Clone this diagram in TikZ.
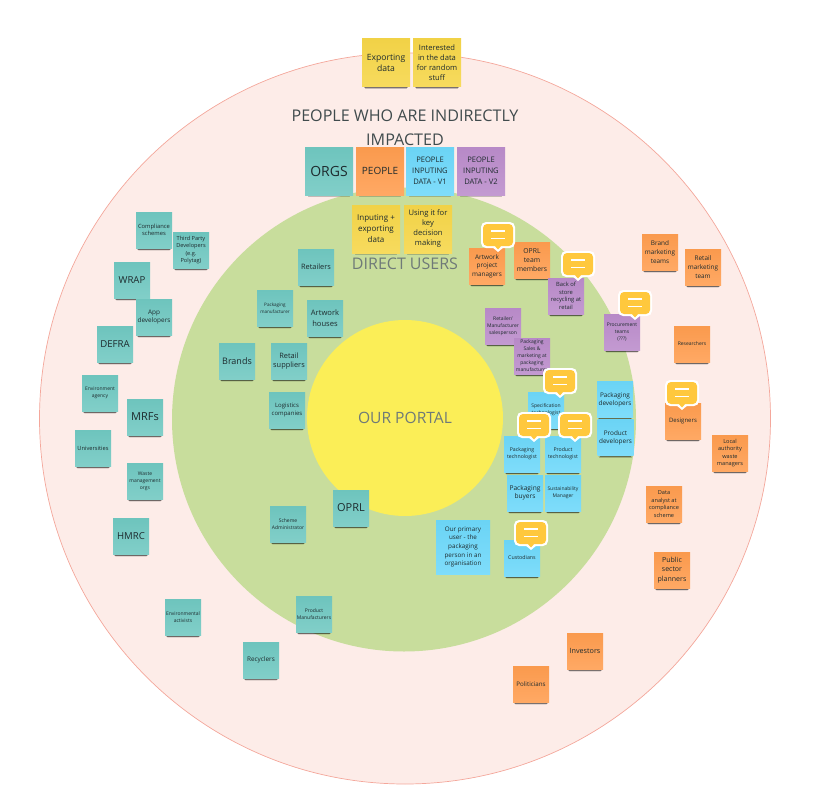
\documentclass[tikz,border=0pt]{standalone}
\usepackage{fontspec}
\setmainfont{Open Sans}
\usetikzlibrary{shadows.blur}
\definecolor{noteTeal}{HTML}{70C8C1}
\definecolor{noteOrange}{HTML}{FF9D4F}
\definecolor{noteBlue}{HTML}{6DD8FA}
\definecolor{notePurple}{HTML}{BB8CCB}
\definecolor{noteYellow}{HTML}{F6D648}
\definecolor{ringPink}{HTML}{FDECE8}
\definecolor{ringEdge}{HTML}{F4A79B}
\definecolor{ringGreen}{HTML}{C8DD9C}
\definecolor{ringYellow}{HTML}{FBEE57}
\definecolor{inkDark}{HTML}{1E2B2E}
\definecolor{inkGrey}{HTML}{6F7A78}
\definecolor{bubbleYellow}{HTML}{FFC83D}
\tikzset{
  % every note is a small square with a soft band of shadow below it
  note/.style 2 args = {rectangle, minimum size=#1, inner sep=0pt, align=center, text=inkDark,
                 top color=#2!98!black, bottom color=#2!88!white,
                 blur shadow={shadow xshift=0pt, shadow yshift=-4.2pt, shadow scale=0.86,
                              shadow opacity=80, shadow blur radius=1.2pt, shadow blur steps=4}},
  tealnote/.style   = {note={36}{noteTeal}},
  orangenote/.style = {note={36}{noteOrange}},
  bluenote/.style   = {note={36}{noteBlue}},
  purplenote/.style = {note={36}{notePurple}},
  yellownote/.style = {note={48}{noteYellow}},
  mid/.style    = {font=\fontsize{8.6}{11.2}\selectfont},
  smalltxt/.style = {font=\fontsize{6.4}{8.6}\selectfont},
  tiny/.style   = {font=\fontsize{5}{7}\selectfont},
  ringlabel/.style = {align=center, text=inkGrey},
  pics/bubble/.style = {code={
    \fill[white, rounded corners=5pt] (-17,-13) rectangle (17,13);
    \fill[white] (-6,12) -- (0,17) -- (6,12) -- cycle;
    \fill[bubbleYellow, rounded corners=4pt] (-15,-11) rectangle (15,11);
    \fill[bubbleYellow] (-4,10) -- (0,14.5) -- (4,10) -- cycle;
    \draw[white, line width=1.6pt] (-7,-4.3) -- (7,-4.3);
    \draw[white, line width=1.6pt] (-7,3.3) -- (7,3.3);
  }}
}
\begin{document}
\begin{tikzpicture}[x=1pt, y=-1pt]
  \useasboundingbox (0,0) rectangle (831,800);
  % rings
  \fill[ringPink, draw=ringEdge, line width=0.7pt] (405,418.5) circle (365.5);
  \fill[ringGreen] (404,419.5) circle (232);
  \fill[ringYellow] (405,418) circle (98);
  \node[ringlabel, text=inkDark!85, font=\fontsize{16.1}{24}\selectfont] (indirect) at (405,128) {PEOPLE WHO ARE INDIRECTLY\\IMPACTED};
  \node[ringlabel, font=\fontsize{16}{18}\selectfont] (direct) at (405,264) {DIRECT USERS};
  \node[ringlabel, font=\fontsize{15.6}{18}\selectfont] (portal) at (405,418) {OUR PORTAL};
  % key at the top
  \node[yellownote, mid] (exporting) at (386,63) {Exporting\\data};
  \node[yellownote, font=\fontsize{7.6}{10}\selectfont] (interested) at (437,63) {Interested\\in the data\\for random\\stuff};
  \node[note={48}{noteTeal}, font=\fontsize{14}{16}\selectfont] (orgs) at (329,171) {ORGS};
  \node[note={48}{noteOrange}, font=\fontsize{10}{12}\selectfont] (people) at (380,171) {PEOPLE};
  \node[note={48}{noteBlue}, font=\fontsize{7.6}{11}\selectfont] (peoplev1) at (430,171) {PEOPLE\\INPUTING\\DATA - V1};
  \node[note={48}{notePurple}, font=\fontsize{7.6}{11}\selectfont] (peoplev2) at (481,171) {PEOPLE\\INPUTING\\DATA - V2};
  \node[yellownote, font=\fontsize{8}{11}\selectfont] (inputing) at (376,229) {Inputing +\\exporting\\data};
  \node[yellownote, font=\fontsize{7.6}{10}\selectfont] (keyuse) at (428,229) {Using it for\\key\\decision\\making};
  % organisations, outer ring
  \node[tealnote, font=\fontsize{5.8}{7.6}\selectfont] (compliance) at (154,230) {Compliance\\schemes};
  \node[tealnote, font=\fontsize{5.6}{7.6}\selectfont] (thirdparty) at (191,250) {Third Party\\Developers\\(e.g.\\Polytag)};
  \node[tealnote, font=\fontsize{9.6}{12}\selectfont] (wrap) at (132,280) {WRAP};
  \node[tealnote, smalltxt] (appdevs) at (154,317) {App\\developers};
  \node[tealnote, font=\fontsize{9.6}{12}\selectfont] (defra) at (115,344) {DEFRA};
  \node[tealnote, tiny] (envagency) at (100,393) {Environment\\agency};
  \node[tealnote, font=\fontsize{11}{13}\selectfont] (mrfs) at (145,417) {MRFs};
  \node[tealnote, font=\fontsize{5.7}{8}\selectfont] (universities) at (93,448) {Universities};
  \node[tealnote, tiny] (waste) at (145,481) {Waste\\management\\orgs};
  \node[tealnote, font=\fontsize{9.6}{12}\selectfont] (hmrc) at (131,536) {HMRC};
  \node[tealnote, tiny] (activists) at (183,617) {Environmental\\activists};
  \node[tealnote, smalltxt] (recyclers) at (261,660) {Recyclers};
  % organisations, green ring
  \node[tealnote, font=\fontsize{7.4}{9}\selectfont] (retailers) at (316,267) {Retailers};
  \node[tealnote, font=\fontsize{4.6}{7}\selectfont] (packmanu) at (275,308) {Packaging\\manufacturer};
  \node[tealnote, font=\fontsize{7.6}{10.6}\selectfont] (artwork) at (325,318) {Artwork\\houses};
  \node[tealnote, font=\fontsize{9}{12}\selectfont] (brands) at (237,361) {Brands};
  \node[tealnote, font=\fontsize{7.4}{9.8}\selectfont] (retailsup) at (289,361) {Retail\\suppliers};
  \node[tealnote, font=\fontsize{6}{8.4}\selectfont] (logistics) at (287,410) {Logistics\\companies};
  \node[tealnote, tiny] (schemeadmin) at (288,524) {Scheme\\Administrator};
  \node[tealnote, font=\fontsize{11}{13}\selectfont] (oprl) at (351,508) {OPRL};
  \node[tealnote, tiny] (prodmanu) at (314,614) {Product\\Manufacturers};
  % orange, green ring
  \node[orangenote, smalltxt] (artworkpm) at (487,266) {Artwork\\project\\managers};
  \node[orangenote, font=\fontsize{6.8}{8.8}\selectfont] (oprlteam) at (532,260) {OPRL\\team\\members};
  % purple
  \node[purplenote, font=\fontsize{5.8}{7.6}\selectfont] (backstore) at (566,296) {Back of\\store\\recycling at\\retail};
  \node[purplenote, tiny] (salesperson) at (503,326) {Retailer/\\Manufacturer\\salesperson};
  \node[purplenote, tiny] (packsales) at (532,356) {Packaging\\Sales \&\\marketing at\\packaging\\manufacturer};
  \node[purplenote, tiny] (procurement) at (622,332) {Procurement\\teams\\(???)};
  % blue
  \node[bluenote, font=\fontsize{6.4}{8.2}\selectfont] (packdevs) at (615,399.5) {Packaging\\developers};
  \node[bluenote, font=\fontsize{6.4}{8.2}\selectfont] (proddevs) at (615.5,437.5) {Product\\developers};
  \node[bluenote, tiny] (spectech) at (546,410) {Specification\\technologist};
  \node[bluenote, font=\fontsize{5.2}{7}\selectfont] (packtech) at (522,454) {Packaging\\technologist};
  \node[bluenote, font=\fontsize{5.2}{7}\selectfont] (prodtech) at (563,454) {Product\\technologist};
  \node[bluenote, font=\fontsize{6.6}{8.4}\selectfont] (packbuyers) at (525,493) {Packaging\\buyers};
  \node[bluenote, tiny] (sustain) at (563,493) {Sustainability\\Manager};
  \node[note={54}{noteBlue}, font=\fontsize{6.3}{8.7}\selectfont] (primary) at (463,547) {Our primary\\user - the\\packaging\\person in an\\organisation};
  \node[bluenote, font=\fontsize{5.3}{8}\selectfont] (custodians) at (522,558) {Custodians};
  % people, outer ring
  \node[orangenote, smalltxt] (brandteams) at (660,252) {Brand\\marketing\\teams};
  \node[orangenote, smalltxt] (retailteam) at (703,267) {Retail\\marketing\\team};
  \node[orangenote, tiny] (researchers) at (692,344) {Researchers};
  \node[orangenote, font=\fontsize{6}{8}\selectfont] (designers) at (683,421) {Designers};
  \node[orangenote, font=\fontsize{5.6}{7.2}\selectfont] (localauth) at (730,453) {Local\\authority\\waste\\managers};
  \node[orangenote, font=\fontsize{5.6}{7.4}\selectfont] (analyst) at (664,504) {Data\\analyst at\\compliance\\scheme};
  \node[orangenote, font=\fontsize{7}{9.4}\selectfont] (planners) at (672,570) {Public\\sector\\planners};
  \node[orangenote, font=\fontsize{7.2}{9}\selectfont] (investors) at (585,651) {Investors};
  \node[orangenote, font=\fontsize{6.2}{8}\selectfont] (politicians) at (531,684) {Politicians};
  % comment bubbles
  \foreach \p in {(498,235),(578,264),(635,303),(560,381),(534,425),(575,425),(531,533),(682,393)}
    \pic at \p {bubble};
\end{tikzpicture}
\end{document}
